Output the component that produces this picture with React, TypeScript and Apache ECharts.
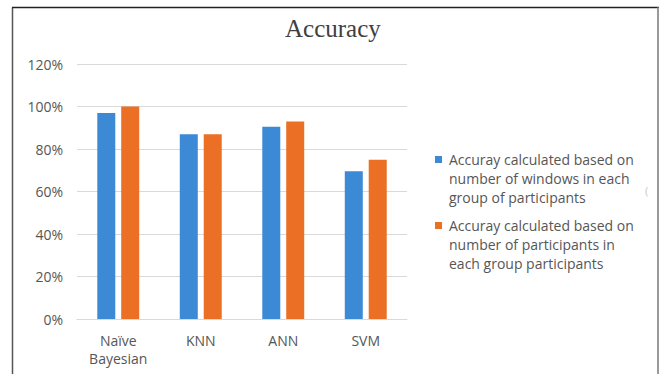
import React, { useEffect, useRef } from "react";
import * as echarts from "echarts";

// Classifier categories along the x axis
const categories = ["Naïve\nBayesian", "KNN", "ANN", "SVM"];
// Accuracy (%) per classifier
const windowsAccuracy = [97, 87, 90.5, 69.5];
const participantsAccuracy = [100, 87, 93, 75];
const seriesNames = [
  "Accuray calculated based on number of windows in each group of participants",
  "Accuray calculated based on number of participants in each group participants",
];
// Wrapped legend text for each series
const legendLines = [
  ["Accuray calculated based on", "number of windows in each", "group of participants"],
  ["Accuray calculated based on", "number of participants in", "each group participants"],
];
const colors = ["#3c8ad6", "#eb6f24"];
const yTicks = { min: 0, max: 120, interval: 20 };

const SANS = "'Open Sans', 'Noto Sans', sans-serif";

export default function App() {
  const ref = useRef<HTMLDivElement>(null);

  useEffect(() => {
    if (!ref.current) return;
    const chart = echarts.init(ref.current, undefined, { renderer: "svg" });

    const legendGraphics: any[] = [];
    legendLines.forEach((lines, i) => {
      const top = 152 + i * 66;
      legendGraphics.push({
        type: "rect",
        shape: { x: 435, y: top + 4, width: 7, height: 7 },
        style: { fill: colors[i] },
      });
      legendGraphics.push({
        type: "text",
        x: 449,
        y: top - 2,
        style: {
          text: lines.join("\n"),
          fill: "#565656",
          font: `14px ${SANS}`,
          lineHeight: 19,
        },
      });
    });

    chart.setOption({
      animation: false,
      backgroundColor: "#ffffff",
      title: {
        text: "Accuracy",
        left: 280,
        top: 11,
        textStyle: {
          fontFamily: "'Liberation Serif', 'DejaVu Serif', serif",
          fontSize: 25,
          fontWeight: "normal",
          color: "#404040",
        },
      },
      grid: { left: 77, right: 252, top: 64, bottom: 55 },
      xAxis: {
        type: "category",
        data: categories,
        axisLine: { show: true, lineStyle: { color: "#d9d9d9" } },
        axisTick: { show: false },
        axisLabel: {
          color: "#565656",
          fontFamily: SANS,
          fontSize: 14,
          lineHeight: 18,
          margin: 12,
        },
      },
      yAxis: {
        type: "value",
        min: yTicks.min,
        max: yTicks.max,
        interval: yTicks.interval,
        axisLine: { show: false },
        axisTick: { show: false },
        splitLine: { lineStyle: { color: "#d9d9d9" } },
        axisLabel: {
          formatter: "{value}%",
          color: "#565656",
          fontFamily: SANS,
          fontSize: 14,
          margin: 14,
        },
      },
      series: [
        {
          name: seriesNames[0],
          type: "bar",
          data: windowsAccuracy,
          barWidth: 18,
          barGap: "33%",
          itemStyle: { color: colors[0] },
        },
        {
          name: seriesNames[1],
          type: "bar",
          data: participantsAccuracy,
          barWidth: 18,
          barGap: "33%",
          itemStyle: { color: colors[1] },
        },
      ],
      graphic: [
        ...legendGraphics,
        {
          type: "text",
          x: 645,
          y: 185,
          style: { text: "(", fill: "#c8c8c8", font: `11px ${SANS}` },
        },
        // frame around the chart area
        {
          type: "line",
          shape: { x1: 12.5, y1: 7.5, x2: 12.5, y2: 374 },
          style: { stroke: "#555555", lineWidth: 1.5 },
        },
        {
          type: "line",
          shape: { x1: 12, y1: 7.5, x2: 659, y2: 7.5 },
          style: { stroke: "#222222", lineWidth: 1.5 },
        },
        {
          type: "line",
          shape: { x1: 658, y1: 7.5, x2: 658, y2: 374 },
          style: { stroke: "#9a9a9a", lineWidth: 2 },
        },
      ],
    });

    return () => chart.dispose();
  }, []);

  return (
    <div
      ref={ref}
      style={{ position: "fixed", left: 0, top: 0, width: 659, height: 374 }}
    />
  );
}
